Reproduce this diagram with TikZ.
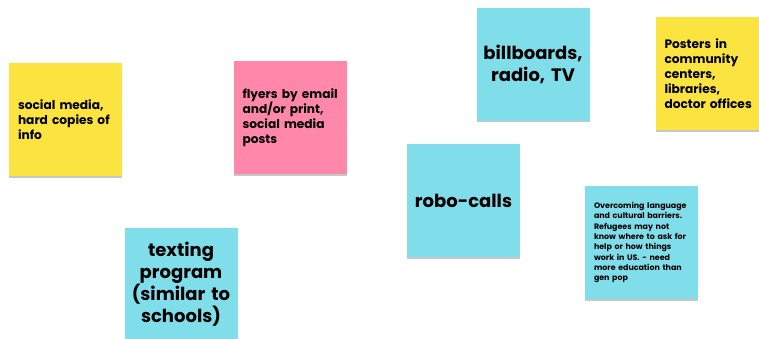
\documentclass[tikz,border=0pt]{standalone}
\usepackage{fontspec}
\setmainfont{Poppins}[BoldFont={* Bold}]
\usetikzlibrary{shadows}
\definecolor{stickyyellow}{HTML}{FBE43F}
\definecolor{stickypink}{HTML}{FF88AA}
\definecolor{stickycyan}{HTML}{80DDEA}
\hfuzz=20pt
\tikzset{
  note/.style={rectangle, minimum width=113pt, minimum height=113pt,
    inner xsep=9pt, inner ysep=0pt, text width=95pt,
    drop shadow={shadow xshift=0pt, shadow yshift=-1.5pt, opacity=0.22, fill=black}},
  small/.style={align=left, font=\bfseries\fontsize{12.2}{15}\selectfont},
  big/.style={align=center, inner xsep=1pt, text width=111pt,
    font=\bfseries\fontsize{18}{22}\selectfont},
  tiny/.style={align=left, font=\bfseries\fontsize{7.9}{10.3}\selectfont},
}
\begin{document}
\begin{tikzpicture}[x=1pt, y=-1pt]
  \useasboundingbox[fill=white] (0,0) rectangle (759,339);
  % sticky notes, positioned by their centres
  \node[note, small, fill=stickyyellow] (social) at (65.5,119.5)
    {social~media,\\hard~copies~of\\info};
  \node[note, small, fill=stickypink] (flyers) at (290,117.5)
    {flyers~by~email\\and/or~print,\\social~media\\posts};
  \node[note, big, fill=stickycyan] (billboards) at (533,64.5)
    {billboards,\\radio, TV};
  \node[note, small, fill=stickyyellow] (posters) at (712,74)
    {Posters~in\\community\\centers,\\libraries,\\doctor~offices};
  \node[note, big, fill=stickycyan] (robo) at (463.5,200.5)
    {robo-calls};
  \node[note, tiny, fill=stickycyan] (barriers) at (641.5,242.5)
    {Overcoming~language\\and~cultural~barriers.\\Refugees~may~not\\know~where~to~ask~for\\help~or~how~things\\work~in~US.~-~need\\more~education~than\\gen~pop};
  \node[note, big, fill=stickycyan] (texting) at (181,284.5)
    {texting\\program\\(similar to\\schools)};
\end{tikzpicture}
\end{document}
